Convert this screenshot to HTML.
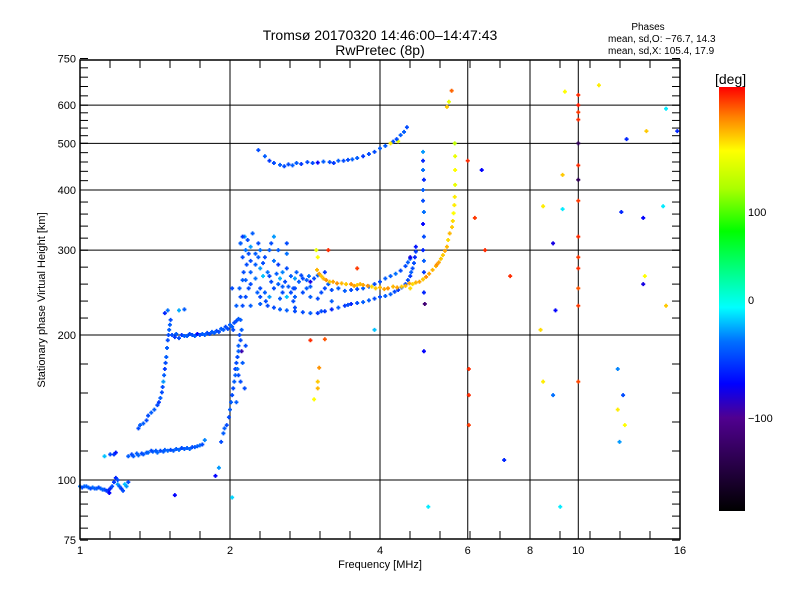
<!DOCTYPE html>
<html><head><meta charset="utf-8"><style>
body{margin:0;background:#fff;}
svg{display:block;font-family:"Liberation Sans",sans-serif;}
</style></head><body>
<svg id="c" width="800" height="600">
<text x="380" y="40" text-anchor="middle" font-size="14">Tromsø 20170320 14:46:00–14:47:43</text>
<text x="380" y="55" text-anchor="middle" font-size="14">RwPretec (8p)</text>
<text x="648" y="30" text-anchor="middle" font-size="10">Phases</text>
<text x="608" y="42" font-size="10">mean, sd,O: −76.7, 14.3</text>
<text x="608" y="54" font-size="10">mean, sd,X: 105.4, 17.9</text>
<text x="45" y="300" text-anchor="middle" font-size="11" transform="rotate(-90 45 300)">Stationary phase Virtual Height [km]</text>
<text x="380" y="568" text-anchor="middle" font-size="11">Frequency [MHz]</text>
<defs><linearGradient id="cb" x1="0" y1="1" x2="0" y2="0">
<stop offset="0" stop-color="#000"/><stop offset="0.22" stop-color="#500090"/>
<stop offset="0.30" stop-color="#0000ff"/><stop offset="0.40" stop-color="#0070ff"/>
<stop offset="0.48" stop-color="#00ffff"/><stop offset="0.66" stop-color="#00ff00"/><stop offset="0.76" stop-color="#aaff00"/>
<stop offset="0.85" stop-color="#ffff00"/><stop offset="0.93" stop-color="#ff8000"/><stop offset="1" stop-color="#ff0000"/>
</linearGradient></defs>
<rect x="719" y="87" width="26" height="424" fill="url(#cb)"/>
<text x="715" y="84" font-size="14">[deg]</text>
<text x="748" y="216" font-size="11">100</text>
<text x="748" y="304" font-size="11">0</text>
<text x="748" y="422" font-size="11">−100</text>
<g id="grid"></g><g id="pts"></g>
<rect x="80" y="60" width="600" height="479" fill="none" stroke="#000" stroke-width="1.5"/>
</svg>
<script>
const xTicks=[1,2,4,6,8,10,16];
const xGrid=[2,4,6,8,10];
const yTicks=[75,100,200,300,400,500,600,750];
const yGrid=[100,200,300,400,500,600];
// [freq MHz, height km, phase deg]
const eLayer=[[1.0,97,-70],[1.02,97,-70],[1.04,96.5,-72],[1.06,96.5,-70],[1.08,96,-75],[1.10,96,-72],[1.12,95.5,-80],[1.14,95,-95],[1.15,96,-90],[1.17,99,-85],[1.18,101,-90],[1.19,98,-60],[1.21,96,-85],[1.23,98,-50],[1.25,99,-80],[1.12,112,-50],[1.15,113,-80],[1.17,113,-85],[1.18,114,-95]];
const eLayer2=[[1.01,96.5,-80],[1.03,97,-75],[1.05,96,-80],[1.07,96,-75],[1.09,96.5,-80],[1.11,95.5,-75],[1.13,95,-85],[1.16,97,-80],[1.20,97,-75],[1.22,95,-80],[1.24,97,-60],[1.145,94,-100],[1.19,100,-80]];
const esLayer=[[1.25,112,-75],[1.28,112,-75],[1.31,112.5,-72],[1.34,113,-75],[1.37,114,-70],[1.40,114.5,-75],[1.43,114,-72],[1.47,114.5,-75],[1.50,115,-72],[1.54,115,-75],[1.58,115.5,-72],[1.62,116,-75],[1.66,116,-72],[1.70,117,-75],[1.74,118,-70],[1.78,121,-65]];
const esLayer2=[[1.27,113,-80],[1.30,113.5,-75],[1.33,113.5,-80],[1.36,114,-75],[1.39,115,-80],[1.42,115,-75],[1.45,115,-80],[1.48,115.5,-75],[1.52,115.5,-80],[1.56,116,-75],[1.60,116.5,-80],[1.64,116.5,-75],[1.68,117,-80],[1.72,117.5,-75],[1.76,118.5,-80]];
const f1Rise=[[1.31,128,-80],[1.34,131,-75],[1.37,136,-80],[1.41,140,-75],[1.44,145,-85],[1.46,152,-80],[1.47,160,-60],[1.48,170,-85],[1.49,180,-75],[1.50,195,-80],[1.51,205,-75],[1.52,215,-80],[1.50,225,-70],[1.48,222,-90],[1.58,225,-55],[1.62,226,-75]];
const f1Rise2=[[1.32,130,-75],[1.36,133,-80],[1.39,138,-75],[1.43,143,-80],[1.45,148,-75],[1.465,156,-80],[1.475,165,-75],[1.485,175,-80],[1.495,188,-75],[1.505,200,-80],[1.515,210,-75]];
const f1Layer=[[1.53,200,-80],[1.56,201,-75],[1.60,200,-85],[1.64,199,-75],[1.68,200,-80],[1.72,201,-100],[1.76,201,-75],[1.80,202,-80],[1.84,203,-75],[1.88,204,-80],[1.92,206,-75],[1.96,208,-80],[2.0,210,-75],[2.04,212,-80],[2.08,216,-75]];
const f1Layer2=[[1.55,198,-85],[1.58,197,-80],[1.62,199,-75],[1.66,201,-80],[1.70,199,-75],[1.74,200,-80],[1.78,200,-75],[1.82,201,-80],[1.86,202,-75],[1.90,203,-80],[1.94,205,-75],[1.98,206,-80],[2.02,208,-75],[2.06,214,-80]];
const ramp=[[1.87,102,-100],[1.90,106,-60],[1.92,120,-80],[1.94,125,-75],[1.97,130,-80],[2.00,140,-75],[2.02,150,-80],[2.04,160,-75],[2.05,170,-85],[2.07,180,-80],[2.08,190,-75],[2.09,200,-80],[2.10,215,-75],[2.10,240,-80],[2.12,260,-75],[2.12,290,-80],[2.10,310,-75],[2.14,320,-60],[2.16,280,-80],[2.06,230,-75],[2.02,250,-80],[2.08,165,-80],[2.12,175,-75],[2.14,155,-80],[2.06,145,-75],[2.11,185,-130],[2.15,190,-80],[2.03,205,-80]];
const ramp2=[[1.95,128,-75],[1.99,135,-80],[2.01,145,-75],[2.03,155,-80],[2.05,165,-75],[2.06,175,-80],[2.08,185,-75],[2.10,195,-80],[2.11,205,-75],[2.12,230,-80],[2.09,250,-75],[2.13,270,-80],[2.07,170,-70],[2.10,160,-80]];
const blob=[[2.10,310,-75],[2.12,320,-85],[2.15,300,-70],[2.18,295,-80],[2.2,305,-60],[2.22,325,-75],[2.28,310,-80],[2.3,300,-70],[2.2,285,-80],[2.25,280,-75],[2.3,275,-60],[2.35,290,-80],[2.4,300,-75],[2.45,285,-70],[2.5,280,-85],[2.55,270,-65],[2.6,275,-80],[2.65,265,-75],[2.7,262,-60],[2.75,258,-75],[2.8,262,-80],[2.85,260,-75],[2.9,258,-110],[2.95,262,-80],[3.0,266,-75],[3.1,270,-85],[2.15,260,-75],[2.2,255,-80],[2.25,262,-70],[2.3,250,-80],[2.35,245,-75],[2.4,240,-60],[2.45,250,-80],[2.5,255,-75],[2.55,245,-80],[2.6,240,-50],[2.7,240,-75],[2.8,245,-80],[2.9,240,-75],[3.0,238,-80],[3.2,235,-75],[2.15,240,-80],[2.2,270,-75],[2.4,265,-80],[2.5,300,-75],[2.6,295,-70],[2.6,310,-80],[2.45,320,-60],[2.3,240,-80],[2.2,230,-75]];
const blob2=[[2.17,315,-80],[2.25,295,-75],[2.33,282,-80],[2.38,270,-70],[2.42,258,-80],[2.48,268,-75],[2.52,262,-55],[2.58,258,-80],[2.62,252,-75],[2.68,250,-80],[2.72,270,-75],[2.78,266,-80],[2.88,265,-70],[2.18,250,-80],[2.27,245,-75],[2.36,235,-80],[2.52,238,-75],[2.65,245,-80],[2.85,250,-75],[3.05,245,-80],[3.15,255,-75],[2.33,265,-50],[2.42,310,-80],[2.28,290,-75],[2.68,235,-80]];
const oLower=[[2.3,232,-75],[2.45,228,-80],[2.6,225,-75],[2.8,223,-80],[3.0,222,-85],[3.2,226,-90],[3.4,230,-85],[3.6,233,-80],[3.8,236,-75],[4.0,240,-80],[4.2,243,-75],[4.35,248,-85],[4.5,255,-80],[4.6,265,-85],[4.65,275,-80],[4.7,290,-90],[4.72,305,-95],[2.7,228,-80],[3.5,232,-90],[3.1,224,-85]];
const oLower2=[[2.38,230,-80],[2.52,226,-75],[2.7,224,-80],[2.9,222,-75],[3.05,224,-80],[3.3,228,-75],[3.45,231,-80],[3.7,234,-75],[3.9,238,-80],[4.1,241,-75],[4.28,246,-80],[4.42,251,-75],[4.55,260,-80],[4.62,270,-75],[4.68,282,-80],[4.72,298,-85]];
const oUpper=[[2.55,252,-75],[2.7,250,-80],[2.9,252,-75],[3.1,250,-80],[3.3,250,-75],[3.5,248,-80],[3.7,250,-75],[3.9,255,-80],[4.1,262,-75],[4.3,268,-70],[4.5,278,-80],[4.6,288,-75]];
const oUpper2=[[3.2,248,-80],[3.4,247,-75],[3.6,249,-80],[3.8,252,-75],[4.0,258,-80],[4.2,265,-75],[4.4,272,-80],[4.55,283,-75]];
const xTrace=[[2.99,273,130],[3.05,265,125],[3.12,260,140],[3.22,258,135],[3.35,256,130],[3.5,255,140],[3.6,254,125],[3.7,254,135],[3.85,252,120],[4.0,251,130],[4.15,250,140],[4.33,251,135],[4.5,253,130],[4.65,255,120],[4.8,258,135],[4.95,264,140],[5.1,273,130],[5.25,283,135],[5.35,293,125],[5.45,305,130],[5.48,315,120],[5.58,335,125],[5.62,358,110],[5.65,387,115],[5.66,410,100],[5.66,440,110],[5.66,470,100],[5.65,500,80],[5.45,595,125],[5.57,643,155],[5.5,610,100],[3.0,290,110],[2.98,300,100]];
const xTrace2=[[3.02,268,135],[3.08,262,130],[3.17,258,125],[3.28,256,140],[3.42,255,125],[3.55,253,135],[3.65,255,130],[3.78,253,140],[3.92,250,125],[4.08,249,135],[4.25,252,130],[4.42,252,125],[4.58,256,135],[4.72,257,130],[4.88,261,125],[5.02,268,135],[5.18,278,130],[5.3,288,125],[5.4,299,135],[5.52,325,130],[5.6,345,120],[5.64,372,115],[5.2,280,140],[4.6,250,120]];
const upperTrace=[[2.28,484,-80],[2.35,470,-75],[2.45,455,-80],[2.52,451,-75],[2.62,452,-80],[2.72,455,-75],[2.86,457,-80],[3.0,456,-100],[3.17,457,-80],[3.3,460,-75],[3.45,462,-80],[3.6,466,-75],[3.8,475,-80],[4.0,488,-75],[4.25,504,-80],[4.4,520,-75],[4.53,540,-80],[4.2,500,115],[4.35,505,100]];
const upperTrace2=[[2.4,460,-85],[2.57,448,-80],[2.67,450,-75],[2.78,453,-85],[2.93,455,-80],[3.08,458,-75],[3.23,455,-85],[3.38,460,-80],[3.52,463,-75],[3.7,470,-85],[3.9,480,-80],[4.1,494,-75],[4.32,510,-80],[4.47,528,-75]];
const streak=[[4.88,480,-60],[4.88,460,-90],[4.88,440,-70],[4.9,420,-90],[4.88,400,-75],[4.88,380,-80],[4.9,360,-70],[4.88,340,-100],[4.9,320,-80],[4.88,300,-90],[4.9,285,-75],[4.9,270,-85],[4.9,245,-90],[4.92,232,-150],[4.9,185,-100]];
const f10=[[10,630,175],[10,600,180],[10,580,170],[10,560,175],[10,500,-160],[10,450,175],[10,420,-160],[10,380,170],[10,320,175],[10,290,170],[10,275,175],[10,250,160],[10,230,170],[10,160,165]];
const scatter=[[6.03,170,175],[6.03,150,175],[6.03,130,170],[6.4,440,-100],[6.2,350,170],[6.5,300,175],[6.0,460,175],[7.3,265,175],[7.1,110,-90],[8.5,370,115],[8.4,205,120],[8.5,160,115],[8.9,150,-70],[9.0,225,-100],[8.9,310,-110],[9.3,430,125],[9.4,640,110],[9.3,365,-40],[11,660,115],[12.2,360,-90],[12.3,150,-80],[12.0,170,-65],[12.1,120,-60],[12.0,140,115],[12.4,130,110],[12.5,510,-90],[13.5,350,-100],[13.6,265,110],[13.7,530,125],[14.8,370,-40],[15,590,-40],[15.8,530,-90],[15,230,125],[13.5,255,-110],[2.9,195,175],[3.02,171,140],[3.0,160,125],[3.0,155,130],[2.95,147,110],[3.15,300,175],[3.6,275,170],[3.9,205,-50],[5.0,88,-40],[9.2,88,-40],[2.02,92,-45],[1.55,93,-100],[3.1,196,160],[4.6,290,-110]];
const series=[eLayer,eLayer2,esLayer,esLayer2,f1Rise,f1Rise2,f1Layer,f1Layer2,ramp,ramp2,blob,blob2,oLower,oLower2,oUpper,oUpper2,xTrace,xTrace2,upperTrace,upperTrace2,streak,f10,scatter];

const X0=80,PX=150,Y100=480,PY=145;
function xs(f){return X0+PX*Math.log2(f);}
function ys(h){return Y100-PY*Math.log2(h/100);}
const stops=[[-190,[0,0,0]],[-140,[80,0,144]],[-100,[0,0,255]],[-70,[0,112,255]],[-35,[0,255,255]],[30,[0,255,0]],[70,[170,255,0]],[110,[255,255,0]],[145,[255,128,0]],[190,[255,0,0]]];
function col(p){
  if(p<=stops[0][0])return'rgb(0,0,0)';
  for(let i=1;i<stops.length;i++){if(p<=stops[i][0]){const a=stops[i-1],b=stops[i],t=(p-a[0])/(b[0]-a[0]);
  return 'rgb('+a[1].map((v,k)=>Math.round(v+(b[1][k]-v)*t)).join(',')+')';}}
  return'rgb(255,0,0)';
}
const NS='http://www.w3.org/2000/svg';
const grid=document.getElementById('grid'),pts=document.getElementById('pts'),svg=document.getElementById('c');
function mk(tag,attrs,parent){const e=document.createElementNS(NS,tag);for(const k in attrs)e.setAttribute(k,attrs[k]);parent.appendChild(e);return e;}
xGrid.forEach(f=>{const l=mk('line',{x1:xs(f),x2:xs(f),y1:60,y2:539,stroke:'#000','stroke-width':1},grid);

});
yGrid.forEach(h=>{const l=mk('line',{x1:80,x2:680,y1:ys(h),y2:ys(h),stroke:'#000','stroke-width':1},grid);

});
xTicks.forEach(f=>{const t=mk('text',{x:xs(f),y:554,'text-anchor':'middle','font-size':11},svg);t.textContent=f;

});
yTicks.forEach(h=>{const t=mk('text',{x:76,y:ys(h)+4,'text-anchor':'end','font-size':11},svg);t.textContent=h;

});
for(let x=80;x<=680;x+=30){mk('line',{x1:x,x2:x,y1:539,y2:531,stroke:'#000'},grid);mk('line',{x1:x,x2:x,y1:60,y2:68,stroke:'#000'},grid);}
for(let i=0;i<yTicks.length-1;i++){const a=ys(yTicks[i]),b=ys(yTicks[i+1]);for(let k=0;k<=5;k++){const y=a+(b-a)*k/5;
mk('line',{x1:80,x2:88,y1:y,y2:y,stroke:'#000'},grid);mk('line',{x1:672,x2:680,y1:y,y2:y,stroke:'#000'},grid);}}
series.forEach(s=>s.forEach(d=>{const x=xs(d[0]),y=ys(d[1]);
const p=mk('path',{d:'M'+(x-2)+' '+y+'h4M'+x+' '+(y-2)+'v4',stroke:col(d[2]),'stroke-width':1.8},pts);

}));
</script>
</body></html>
